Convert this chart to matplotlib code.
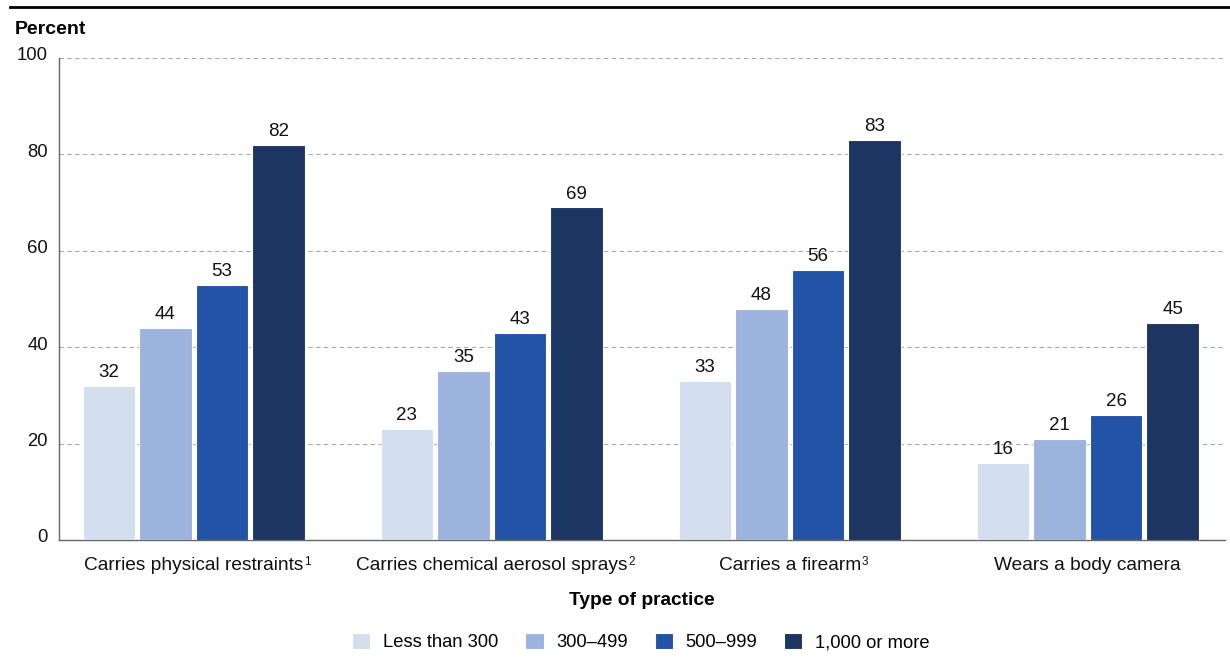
import numpy as np
import matplotlib
matplotlib.use("Agg")
import matplotlib.pyplot as plt
import matplotlib.transforms as mtransforms
from matplotlib.lines import Line2D

plt.rcParams['font.family'] = ['Liberation Sans', 'DejaVu Sans']

practices = ["Carries physical restraints",
             "Carries chemical aerosol sprays",
             "Carries a firearm",
             "Wears a body camera"]
notes = ["1", "2", "3", ""]
sizes = ["Less than 300", "300\u2013499", "500\u2013999", "1,000 or more"]
less_300 = [32, 23, 33, 16]
s300_499 = [44, 35, 48, 21]
s500_999 = [53, 43, 56, 26]
s1000_up = [82, 69, 83, 45]
colors = ["#D3DEEE", "#9CB3DE", "#2353A6", "#1C3562"]

fig = plt.figure(figsize=(12.3, 6.62), dpi=100)
ax = fig.add_axes([0.048, 0.1843, 0.948, 0.7281])

x = np.arange(len(practices))
width = 0.176
step = 0.19
series = [less_300, s300_499, s500_999, s1000_up]
for i, (vals, col, lab) in enumerate(zip(series, colors, sizes)):
    pos = x + (i - 1.5) * step
    bars = ax.bar(pos, vals, width, color=col, edgecolor='white',
                  linewidth=0.8, label=lab, zorder=3)
    for b, v in zip(bars, vals):
        ax.text(b.get_x() + b.get_width() / 2, v + 1, str(v),
                ha='center', va='bottom', fontsize=13.5, color='#111111')

ax.set_xlim(-0.452, 3.461)
ax.set_ylim(0, 100)
ax.set_yticks([0, 20, 40, 60, 80, 100])
ax.yaxis.grid(True, linestyle=(0, (4, 3)), color='#AAAAAA', linewidth=0.8)
ax.set_axisbelow(True)
ax.tick_params(axis='both', length=0, colors='#111111')
ax.tick_params(axis='y', pad=8, labelsize=13.3)
ax.tick_params(axis='x', pad=12, labelsize=13.8)
ax.set_xticks(x)
ax.set_xticklabels(practices)
# y labels sit slightly above their gridlines
lift = mtransforms.ScaledTranslation(0, 4 / 100, fig.dpi_scale_trans)
for lbl in ax.get_yticklabels():
    lbl.set_transform(lbl.get_transform() + lift)
for s in ['top', 'right']:
    ax.spines[s].set_visible(False)
for s in ['left', 'bottom']:
    ax.spines[s].set_color('#666666')
    ax.spines[s].set_linewidth(1)

ax.set_xlabel("Type of practice", fontsize=13.8, fontweight='bold', labelpad=13)
fig.text(15 / 1230, 1 - 30 / 662, "Percent", fontsize=14, fontweight='bold',
         va='center', ha='left')

fig.add_artist(Line2D([10 / 1230, 1], [1 - 7 / 662, 1 - 7 / 662],
                      color='black', linewidth=2))

ax.legend(loc='center', bbox_to_anchor=(641 / 1230, 1 - 642 / 662),
          bbox_transform=fig.transFigure, ncol=4, frameon=False,
          fontsize=13.2, handlelength=1.0, handleheight=1.0,
          columnspacing=1.45, handletextpad=0.7)

# footnote markers next to the category labels
fig.canvas.draw()
for lbl, n in zip(ax.get_xticklabels(), notes):
    if n:
        ax.annotate(n, xy=(1, 0.5), xycoords=lbl, xytext=(0.5, 0),
                    textcoords='offset points', ha='left', va='baseline',
                    fontsize=8.5, color='#111111')

fig.savefig("out.png", dpi=100)
